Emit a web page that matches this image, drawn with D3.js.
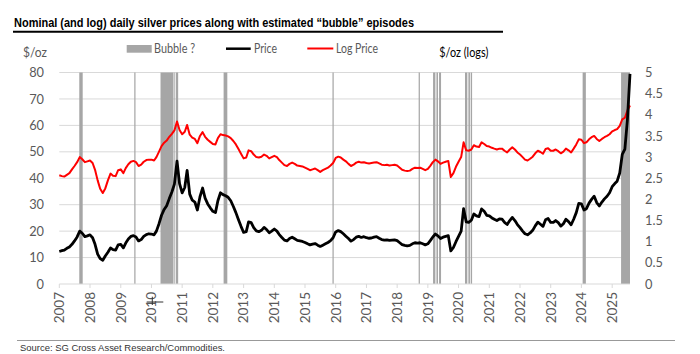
<!DOCTYPE html>
<html><head><meta charset="utf-8">
<script src="https://cdn.jsdelivr.net/npm/d3@7"></script>
<style>body{margin:0;background:#fff}svg{display:block}</style>
</head><body><svg id="c" width="700" height="354"></svg>
<script>
// ---- data (monthly, as positioned on the chart's year axis) ----
const firstMonth = "2007-01-01";
const lastMonth = "2025-08-01";
const price = [
 12.3,12.6,12.8,13.5,14.0,15.0,16.3,17.8,20.0,19.2,17.9,18.2,
 18.6,17.5,15.0,11.3,9.6,9.0,10.6,12.0,13.6,13.0,12.8,14.8,
 15.0,13.7,15.5,17.0,18.0,18.3,17.8,16.3,16.8,18.0,18.7,19.0,
 18.9,18.6,20.0,22.8,26.0,28.2,29.6,32.3,34.8,37.8,46.5,38.0,
 34.5,36.5,43.0,34.0,31.7,31.0,28.0,33.0,36.3,32.5,30.3,28.8,
 27.5,27.0,31.5,34.5,33.8,33.4,32.8,31.5,29.3,27.0,24.3,21.8,
 19.5,19.8,23.5,23.2,21.3,20.1,19.8,20.3,21.4,20.6,19.4,20.0,
 20.8,20.0,18.7,17.6,16.6,16.3,17.2,17.7,17.1,16.5,16.3,16.1,
 15.7,15.2,14.8,15.1,15.3,14.7,14.2,14.7,15.2,15.7,16.4,17.5,
 19.7,20.2,19.8,19.0,18.1,17.2,16.2,16.8,17.7,18.0,17.6,17.9,
 17.5,17.3,17.4,17.7,17.9,17.3,16.8,16.6,16.7,16.5,16.6,16.7,
 16.4,15.6,14.9,14.6,14.4,14.6,15.2,15.6,15.5,15.6,15.2,14.8,
 15.2,16.5,17.8,18.9,18.2,17.2,17.7,18.0,18.3,12.5,13.8,16.0,
 18.0,20.0,28.5,23.5,23.3,24.1,26.5,25.8,25.5,28.4,27.5,26.0,
 25.8,25.0,24.5,24.0,24.6,24.5,23.3,22.5,24.0,25.2,24.0,22.5,
 21.3,20.0,19.0,18.6,19.3,20.3,22.0,23.4,22.6,21.8,24.3,24.8,
 23.3,23.3,24.0,23.2,21.9,22.8,24.5,23.6,22.4,24.5,27.0,30.5,
 30.3,28.0,28.5,30.6,32.0,33.2,30.8,29.5,31.0,32.2,33.2,34.5,
 36.8,38.0,38.9,42.0,49.0,51.0,62.0,79.5
];
const logPrice = [
 2.57,2.55,2.54,2.58,2.62,2.71,2.79,2.88,3.00,2.95,2.88,2.90,
 2.92,2.86,2.70,2.45,2.25,2.15,2.26,2.45,2.61,2.56,2.55,2.69,
 2.71,2.62,2.74,2.83,2.89,2.91,2.88,2.79,2.82,2.89,2.93,2.94,
 2.94,2.92,3.00,3.13,3.26,3.34,3.39,3.48,3.55,3.63,3.84,3.64,
 3.54,3.60,3.76,3.53,3.46,3.43,3.33,3.50,3.59,3.48,3.41,3.36,
 3.31,3.30,3.45,3.54,3.52,3.51,3.49,3.45,3.38,3.30,3.19,3.08,
 2.97,2.99,3.16,3.14,3.06,3.00,2.99,3.01,3.06,3.03,2.97,3.00,
 3.03,3.00,2.93,2.87,2.81,2.79,2.84,2.87,2.84,2.80,2.79,2.78,
 2.75,2.72,2.69,2.71,2.73,2.69,2.65,2.69,2.72,2.75,2.80,2.86,
 2.98,3.01,2.99,2.94,2.90,2.84,2.79,2.82,2.87,2.89,2.87,2.88,
 2.86,2.85,2.86,2.87,2.88,2.85,2.82,2.81,2.82,2.80,2.81,2.82,
 2.80,2.75,2.70,2.68,2.67,2.68,2.72,2.75,2.74,2.75,2.72,2.69,
 2.72,2.80,2.88,2.94,2.90,2.84,2.87,2.89,2.91,2.53,2.62,2.77,
 2.89,3.00,3.35,3.16,3.15,3.18,3.28,3.25,3.24,3.35,3.31,3.26,
 3.25,3.22,3.20,3.18,3.20,3.20,3.15,3.11,3.18,3.23,3.18,3.11,
 3.06,3.00,2.94,2.92,2.96,3.01,3.09,3.15,3.12,3.08,3.19,3.21,
 3.15,3.15,3.18,3.14,3.09,3.13,3.20,3.16,3.11,3.20,3.30,3.42,
 3.41,3.33,3.35,3.42,3.47,3.50,3.43,3.38,3.43,3.47,3.50,3.54,
 3.61,3.64,3.66,3.74,3.89,3.93,4.10,4.22
];
// bubble episodes (decimal years on the chart axis)
const bubbleStart = [2007.651,2009.44,2010.295,2010.745,2010.80,2012.35,2015.895,2018.70,2019.17,2019.28,2019.365,2020.21,2020.32,2020.395,2024.04,2025.29];
const bubbleEnd   = [2007.762,2009.48,2010.719,2010.775,2010.87,2012.47,2015.935,2018.74,2019.245,2019.33,2019.43,2020.285,2020.37,2020.44,2024.145,2025.60];
const yearTicks = d3.range(2007, 2026);
const leftTicks = [0,10,20,30,40,50,60,70,80];
const rightTicks = [0,0.5,1,1.5,2,2.5,3,3.5,4,4.5,5];

const titleText = "Nominal (and log) daily silver prices along with estimated \u201cbubble\u201d episodes";
const sourceText = "Source: SG Cross Asset Research/Commodities.";

// ---- layout ----
const L = 59.3, R = 630, T = 72.5, B = 284;
const svg = d3.select("#c");
const months = d3.timeMonth.range(new Date(2007,0,1), new Date(2025,8,1));
const x = d3.scaleTime().domain([new Date(firstMonth+"T00:00"), new Date(lastMonth+"T00:00")]).range([L, R]);
const yL = d3.scaleLinear().domain([0,80]).range([B, T]);
const yR = d3.scaleLinear().domain([0,5]).range([B, T]);
const dec = t => { const y = Math.floor(t); const a = new Date(y,0,1), b = new Date(y+1,0,1); return new Date(+a + (t-y)*(b-a)); };
const font = "Lato, 'Noto Sans', sans-serif";

// title
svg.append("text").attr("x",14).attr("y",27.3)
  .attr("font-family","'Liberation Sans Narrow','Arial Narrow','Liberation Sans',Arial,sans-serif")
  .attr("font-weight","bold").attr("font-size",13.5).attr("fill","#000")
  .attr("textLength",400).attr("lengthAdjust","spacingAndGlyphs").text(titleText);
svg.append("line").attr("x1",13).attr("x2",503).attr("y1",31.7).attr("y2",31.7).attr("stroke","#000").attr("stroke-width",2);

// axis titles
svg.append("text").attr("x",23).attr("y",56.5).attr("font-family",font).attr("font-size",13.5)
  .attr("fill","#595959").attr("textLength",24).attr("lengthAdjust","spacingAndGlyphs").text("$/oz");
svg.append("text").attr("x",439.3).attr("y",56.5).attr("font-family",font).attr("font-size",13.5)
  .attr("fill","#000").attr("textLength",49).attr("lengthAdjust","spacingAndGlyphs").text("$/oz (logs)");

// legend
svg.append("rect").attr("x",126.7).attr("y",45).attr("width",25).attr("height",7.7).attr("fill","#a6a6a6");
svg.append("text").attr("x",154).attr("y",52.5).attr("font-family",font).attr("font-size",13.5)
  .attr("fill","#595959").attr("textLength",41).attr("lengthAdjust","spacingAndGlyphs").text("Bubble ?");
svg.append("line").attr("x1",226).attr("x2",250.7).attr("y1",48.7).attr("y2",48.7).attr("stroke","#000").attr("stroke-width",2.5);
svg.append("text").attr("x",254).attr("y",52.5).attr("font-family",font).attr("font-size",13.5)
  .attr("fill","#595959").attr("textLength",23).attr("lengthAdjust","spacingAndGlyphs").text("Price");
svg.append("line").attr("x1",307.3).attr("x2",333.3).attr("y1",48.5).attr("y2",48.5).attr("stroke","#ff0000").attr("stroke-width",2);
svg.append("text").attr("x",336).attr("y",52.5).attr("font-family",font).attr("font-size",13.5)
  .attr("fill","#595959").attr("textLength",42).attr("lengthAdjust","spacingAndGlyphs").text("Log Price");

// gridlines
svg.append("g").selectAll("line").data(leftTicks.filter(d=>d>0)).join("line")
  .attr("x1",L).attr("x2",R).attr("y1",d=>yL(d)).attr("y2",d=>yL(d))
  .attr("stroke","#d9d9d9").attr("stroke-width",1);

// bubble bands
svg.append("g").selectAll("rect").data(bubbleStart.map((s,i)=>[s,bubbleEnd[i]])).join("rect")
  .attr("x",d=>x(dec(d[0]))).attr("width",d=>Math.min(x(dec(d[1])),R)-x(dec(d[0])))
  .attr("y",T).attr("height",B-T).attr("fill","#a6a6a6");

// x axis line + ticks
svg.append("line").attr("x1",L).attr("x2",R).attr("y1",B).attr("y2",B).attr("stroke","#d9d9d9").attr("stroke-width",1);
svg.append("g").selectAll("line").data(yearTicks).join("line")
  .attr("x1",d=>x(new Date(d,0,1))).attr("x2",d=>x(new Date(d,0,1))).attr("y1",B).attr("y2",B+4)
  .attr("stroke","#d9d9d9").attr("stroke-width",1);
svg.append("g").selectAll("text").data(yearTicks).join("text")
  .attr("transform",d=>`translate(${x(new Date(d,0,1))},292) rotate(-90)`)
  .attr("text-anchor","end").attr("dy","0.36em")
  .attr("font-family",font).attr("font-size",13.5).attr("fill","#595959").text(d=>d);

// left axis labels
svg.append("g").selectAll("text").data(leftTicks).join("text")
  .attr("x",44).attr("y",d=>yL(d)).attr("dy","0.36em").attr("text-anchor","end")
  .attr("font-family",font).attr("font-size",12.8).attr("fill","#595959").text(d=>d);
// right axis labels
svg.append("g").selectAll("text").data(rightTicks).join("text")
  .attr("x",645).attr("y",d=>yR(d)).attr("dy","0.36em").attr("text-anchor","start")
  .attr("font-family",font).attr("font-size",12.8).attr("fill","#595959").text(d=>d);

// lines
const lineR = d3.line().x((d,i)=>x(months[i])).y(d=>yR(d));
const lineL = d3.line().x((d,i)=>x(months[i])).y(d=>yL(d));
svg.append("path").datum(logPrice).attr("d",lineR).attr("fill","none").attr("stroke","#ff0000")
  .attr("stroke-width",2).attr("stroke-linejoin","round");
svg.append("path").datum(price).attr("d",lineL).attr("fill","none").attr("stroke","#000")
  .attr("stroke-width",2.8).attr("stroke-linejoin","round");

// small crosshair mark seen over the 2010 label
svg.append("path").attr("d","M146.7,302H163.3M152.3,296.7V305").attr("stroke","#333").attr("stroke-width",1);

// footer
svg.append("line").attr("x1",17).attr("x2",675).attr("y1",340.5).attr("y2",340.5).attr("stroke","#999").attr("stroke-width",1);
svg.append("text").attr("x",20).attr("y",351).attr("font-family","'Liberation Sans',Arial,sans-serif")
  .attr("font-size",9).attr("fill","#333").attr("textLength",205).attr("lengthAdjust","spacingAndGlyphs").text(sourceText);
</script></body></html>
